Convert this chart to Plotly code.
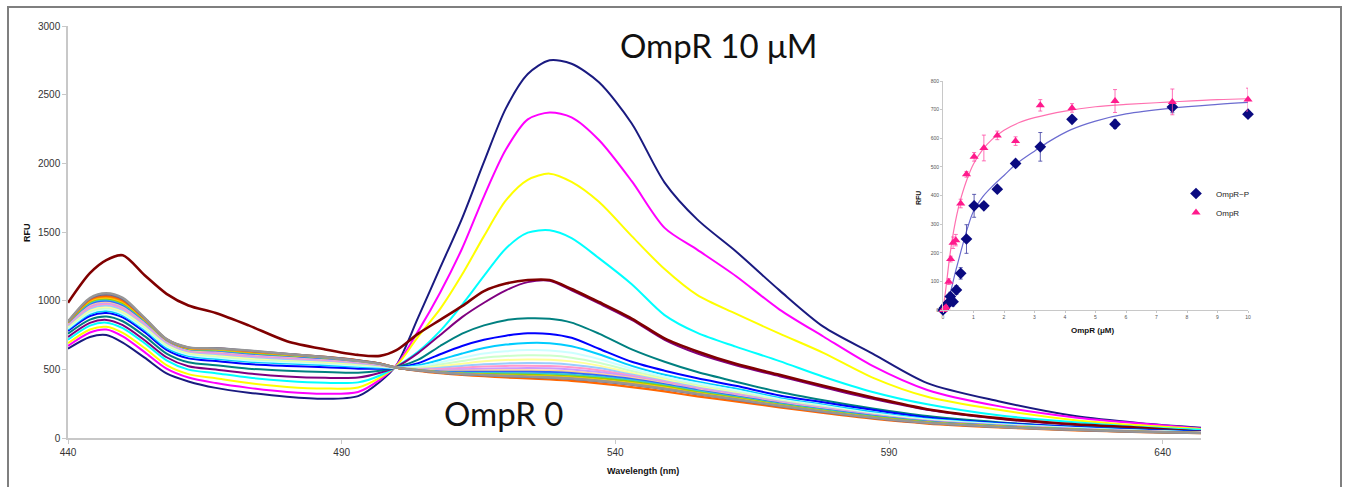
import plotly.graph_objects as go

# ---------------- main spectra data ----------------
wavelength = [440, 444, 447, 450, 454, 458, 462, 467, 473, 480, 487, 493, 497, 500,
              504, 508, 512, 516, 520, 524, 528, 532, 537, 543, 549, 555, 562, 570,
              578, 587, 597, 610, 624, 636, 647]

s01_navy = [650, 735, 750, 695, 585, 470, 412, 365, 330, 300, 285, 305, 410, 530,
            880, 1240, 1600, 2010, 2400, 2650, 2750, 2725, 2590, 2290, 1860, 1590, 1360, 1075, 811, 615, 400, 268, 160, 108, 75]
s02_magenta = [670, 768, 790, 740, 625, 505, 440, 400, 365, 335, 322, 335, 425, 530,
               780, 1060, 1380, 1760, 2100, 2320, 2370, 2335, 2170, 1870, 1530, 1370, 1180, 935, 739, 525, 350, 232, 150, 105, 70]
s03_yellow = [690, 790, 810, 765, 655, 530, 465, 435, 400, 372, 360, 368, 440, 525,
              740, 940, 1190, 1470, 1730, 1880, 1925, 1865, 1720, 1470, 1230, 1040, 905, 760, 620, 440, 300, 205, 130, 92, 65]
s04_cyan = [715, 818, 840, 800, 690, 565, 498, 472, 440, 415, 402, 405, 455, 520,
            630, 780, 970, 1180, 1380, 1495, 1512, 1455, 1310, 1120, 895, 765, 665, 560, 446, 335, 245, 165, 115, 80, 60]
s05_purple = [735, 838, 860, 822, 712, 588, 522, 498, 470, 448, 438, 440, 475, 518,
              620, 750, 880, 985, 1075, 1135, 1145, 1075, 980, 860, 715, 615, 530, 450, 370, 285, 205, 140, 95, 70, 50]
s06_maroon = [985, 1200, 1295, 1330, 1185, 1050, 965, 910, 820, 705, 645, 605, 598, 640,
              760, 860, 960, 1070, 1125, 1150, 1150, 1085, 990, 870, 725, 630, 540, 460, 380, 295, 210, 145, 100, 75, 46]
s07_teal = [760, 862, 885, 850, 742, 615, 552, 530, 505, 490, 480, 475, 490, 515,
            570, 670, 760, 820, 858, 872, 868, 840, 760, 645, 555, 480, 410, 335, 275, 215, 160, 115, 82, 62, 45]
s08_blue = [780, 888, 910, 878, 770, 642, 580, 560, 538, 525, 515, 505, 505, 512,
            545, 610, 670, 715, 745, 762, 758, 730, 650, 555, 490, 435, 380, 310, 260, 205, 150, 110, 80, 60, 45]
s09_sky = [790, 902, 925, 893, 786, 657, 596, 576, 555, 542, 530, 518, 512, 512,
           530, 570, 615, 655, 680, 692, 690, 668, 610, 525, 460, 410, 360, 292, 243, 190, 140, 104, 75, 55, 42]
s10_turquoise = [797, 912, 935, 903, 796, 667, 606, 586, 565, 552, 540, 527, 518, 512,
                 520, 550, 585, 615, 632, 640, 638, 620, 575, 505, 447, 398, 348, 283, 234, 180, 135, 100, 72, 53, 40]
s11_lightgreen = [805, 922, 945, 913, 806, 676, 615, 595, 574, 561, 548, 534, 522, 512,
                  512, 535, 560, 585, 597, 602, 600, 585, 548, 488, 434, 385, 335, 275, 228, 175, 130, 97, 70, 52, 40]
s12_lightyellow = [812, 932, 955, 923, 816, 685, 623, 604, 583, 569, 555, 540, 526, 512,
                   508, 522, 540, 558, 568, 572, 570, 558, 527, 474, 424, 375, 328, 270, 223, 172, 128, 95, 68, 50, 39]
s13_paleblue = [820, 942, 965, 933, 825, 693, 630, 612, 591, 576, 562, 545, 529, 512,
                505, 512, 525, 537, 543, 546, 544, 534, 509, 462, 416, 368, 322, 266, 220, 170, 126, 94, 67, 50, 39]
s14_rose = [827, 952, 975, 943, 834, 700, 636, 619, 598, 583, 568, 550, 532, 512,
            502, 503, 512, 520, 525, 527, 525, 516, 494, 454, 409, 362, 318, 262, 217, 168, 124, 92, 66, 49, 38]
s15_lavender = [833, 962, 985, 953, 842, 706, 641, 626, 605, 589, 573, 554, 535, 512,
                500, 496, 500, 505, 508, 509, 507, 499, 480, 446, 402, 357, 313, 258, 214, 166, 122, 91, 65, 48, 38]
s16_tan = [837, 969, 992, 960, 848, 710, 645, 632, 611, 594, 577, 557, 537, 512,
           498, 490, 490, 492, 494, 494, 492, 485, 467, 438, 397, 352, 308, 255, 211, 164, 121, 90, 64, 48, 38]
s17_lightblue = [840, 977, 1000, 968, 853, 713, 648, 637, 616, 598, 581, 560, 539, 512,
                 496, 485, 482, 482, 483, 482, 480, 474, 457, 430, 392, 348, 304, 252, 208, 162, 120, 89, 63, 47, 37]
s18_aqua = [842, 985, 1008, 976, 857, 715, 650, 641, 620, 602, 584, 562, 540, 512,
            495, 481, 475, 473, 472, 470, 467, 461, 446, 420, 385, 342, 299, 248, 204, 158, 117, 87, 62, 46, 37]
s19_lime = [843, 992, 1015, 984, 861, 716, 652, 644, 624, 605, 586, 563, 541, 512,
            494, 479, 470, 466, 463, 460, 456, 450, 435, 410, 376, 334, 293, 243, 199, 154, 114, 85, 61, 46, 37]
s20_gold = [844, 998, 1022, 991, 865, 717, 654, 647, 627, 607, 588, 564, 541, 512,
            493, 477, 467, 461, 456, 452, 447, 440, 425, 400, 367, 327, 287, 238, 195, 150, 112, 83, 60, 45, 37]
s21_lightorange = [845, 1003, 1028, 997, 868, 718, 656, 650, 630, 609, 589, 565, 542, 512,
                   492, 476, 465, 458, 451, 446, 440, 432, 416, 390, 358, 320, 281, 234, 191, 147, 110, 81, 59, 45, 36]
s22_orange = [846, 1008, 1034, 1003, 870, 719, 657, 652, 632, 611, 590, 566, 542, 512,
              489, 472, 459, 450, 441, 434, 426, 416, 398, 371, 339, 303, 267, 223, 182, 140, 105, 77, 56, 43, 35]
s23_bluegray = [847, 1014, 1045, 1012, 873, 720, 659, 655, 635, 613, 591, 566, 542, 512,
                491, 476, 464, 457, 450, 444, 438, 430, 413, 387, 355, 318, 279, 232, 190, 146, 109, 80, 58, 44, 36]
s24_gray = [848, 1020, 1054, 1020, 875, 720, 660, 652, 637, 612, 588, 562, 540, 512,
            492, 477, 466, 459, 452, 447, 441, 433, 417, 391, 359, 321, 282, 235, 192, 148, 110, 81, 59, 45, 36]

x_ticks = [440, 490, 540, 590, 640]
y_ticks = [0, 500, 1000, 1500, 2000, 2500, 3000]

# ---------------- inset data ----------------
p_conc = [0, 0.05, 0.1, 0.15, 0.24, 0.33, 0.44, 0.58, 0.77, 1.02, 1.34, 1.78, 2.38, 3.19, 4.23, 5.64, 7.52, 10]
p_rfu = [0, 8, 15, 22, 47, 29, 70, 128, 248, 364, 364, 422, 512, 570, 666, 649, 709, 684]
p_err = [0, 5, 8, 8, 15, 15, 15, 20, 50, 40, 10, 10, 10, 50, 10, 15, 20, 10]

u_conc = [0, 0.05, 0.1, 0.19, 0.25, 0.33, 0.42, 0.58, 0.77, 1.02, 1.34, 1.78, 2.38, 3.19, 4.23, 5.64, 7.52, 10]
u_rfu = [0, 5, 10, 99, 178, 235, 244, 372, 474, 535, 566, 610, 590, 715, 706, 730, 727, 735]
u_err = [0, 5, 5, 10, 10, 20, 20, 15, 10, 15, 45, 15, 15, 20, 15, 40, 45, 40]

p_fit_x = [0, 0.1, 0.2, 0.3, 0.4, 0.5, 0.6, 0.8, 1.0, 1.3, 1.6, 2.0, 2.4, 3.0, 3.5, 4.2, 5.0, 6.0, 7.5, 9.0, 10]
p_fit_y = [0, 15, 45, 85, 130, 170, 210, 285, 345, 395, 430, 470, 510, 555, 590, 630, 660, 685, 705, 718, 725]
u_fit_x = [0, 0.1, 0.2, 0.3, 0.4, 0.5, 0.6, 0.8, 1.0, 1.3, 1.6, 2.0, 2.5, 3.0, 4.0, 5.0, 6.0, 7.5, 9.0, 10]
u_fit_y = [0, 80, 170, 245, 305, 355, 395, 460, 510, 560, 595, 628, 655, 672, 695, 710, 718, 727, 735, 738]

inset_x_ticks = list(range(0, 11))
inset_y_ticks = list(range(0, 900, 100))

# ---------------- styling ----------------
spectra = [s01_navy, s02_magenta, s03_yellow, s04_cyan, s05_purple, s06_maroon, s07_teal, s08_blue,
           s09_sky, s10_turquoise, s11_lightgreen, s12_lightyellow, s13_paleblue, s14_rose, s15_lavender,
           s16_tan, s17_lightblue, s18_aqua, s19_lime, s20_gold, s21_lightorange, s22_orange,
           s23_bluegray, s24_gray]
colors = ["#1a1a80", "#FF00FF", "#FFFF00", "#00FFFF", "#800080", "#800000", "#008080", "#0000FF",
          "#00CCFF", "#CCFFFF", "#CCFFCC", "#FFFF99", "#99CCFF", "#FF99CC", "#CC99FF", "#FFCC99",
          "#3366FF", "#33CCCC", "#99CC00", "#FFCC00", "#FF9900", "#FF6600", "#666699", "#969696"]
widths = [2, 2, 2, 2, 2, 2.6, 2, 2, 2, 2, 2, 2, 2, 2, 2, 2, 2, 2, 2, 2, 2, 2.2, 2, 2.4]

W, H = 1346, 487
L, R, T, B = 68, 86, 26, 49
PW = W - L - R
PH = H - T - B


def px(xp):
    return (xp - L) / PW


def py(yp):
    return (H - B - yp) / PH


fig = go.Figure()
for ser, col, wd in zip(spectra, colors, widths):
    fig.add_trace(go.Scatter(x=wavelength, y=ser, mode="lines",
                             line=dict(color=col, width=wd, shape="spline", smoothing=0.8),
                             showlegend=False, hoverinfo="skip", xaxis="x", yaxis="y"))

fig.add_trace(go.Scatter(x=p_fit_x, y=p_fit_y, mode="lines", line=dict(color="#6b6bd0", width=1.2, shape="spline"),
                         showlegend=False, xaxis="x2", yaxis="y2"))
fig.add_trace(go.Scatter(x=u_fit_x, y=u_fit_y, mode="lines", line=dict(color="#ff70b0", width=1.2, shape="spline"),
                         showlegend=False, xaxis="x2", yaxis="y2"))
fig.add_trace(go.Scatter(x=p_conc, y=p_rfu, mode="markers", name="OmpR~P",
                         marker=dict(symbol="diamond", size=9, color="#0a0a80"),
                         error_y=dict(type="data", array=p_err, color="#3a3aa0", thickness=0.8, width=2),
                         cliponaxis=False, xaxis="x2", yaxis="y2"))
fig.add_trace(go.Scatter(x=u_conc, y=u_rfu, mode="markers", name="OmpR",
                         marker=dict(symbol="triangle-up", size=8, color="#ff1a8c"),
                         error_y=dict(type="data", array=u_err, color="#ff4da6", thickness=0.8, width=2),
                         cliponaxis=False, xaxis="x2", yaxis="y2"))

axis_font = dict(family="Liberation Sans, Arial, sans-serif", size=10, color="#333333")
small_font = dict(family="Liberation Sans, Arial, sans-serif", size=5, color="#555555")


def label(text, xp, yp, size, family="Liberation Sans, Arial, sans-serif", angle=0):
    return dict(text=text, xref="paper", yref="paper", x=px(xp), y=py(yp), showarrow=False,
                xanchor="center", yanchor="middle", textangle=angle,
                font=dict(family=family, size=size, color="#111111"))


fig.update_layout(
    width=W, height=H, margin=dict(l=L, r=R, t=T, b=B),
    paper_bgcolor="white", plot_bgcolor="rgba(0,0,0,0)",
    xaxis=dict(domain=[0, px(1201)], range=[440, 647], tickvals=x_ticks, showgrid=False, zeroline=False,
               showline=True, linecolor="#c8c8c8", linewidth=1.5, ticks="outside", ticklen=4,
               tickcolor="#c8c8c8", tickfont=axis_font),
    yaxis=dict(domain=[0, 1], range=[0, 3000], tickvals=y_ticks, showgrid=False, zeroline=False,
               showline=True, linecolor="#c8c8c8", linewidth=1.5, ticks="outside", ticklen=4,
               tickcolor="#c8c8c8", tickfont=axis_font),
    xaxis2=dict(domain=[px(943), px(1248)], range=[0, 10], anchor="y2", tickvals=inset_x_ticks,
                showgrid=False, zeroline=False, showline=True, linecolor="#c8c8c8", linewidth=1,
                ticks="outside", ticklen=2, tickcolor="#c8c8c8", tickfont=small_font),
    yaxis2=dict(domain=[py(310), py(81)], range=[0, 800], anchor="x2", tickvals=inset_y_ticks,
                showgrid=False, zeroline=False, showline=True, linecolor="#c8c8c8", linewidth=1,
                ticks="outside", ticklen=2, tickcolor="#c8c8c8", tickfont=small_font),
    legend=dict(x=px(1176), y=py(179), xanchor="left", yanchor="top", bgcolor="rgba(0,0,0,0)",
                font=dict(family="Liberation Sans, Arial, sans-serif", size=8, color="#222222"),
                itemwidth=30, tracegroupgap=4),
    shapes=[dict(type="rect", xref="paper", yref="paper", x0=px(8), x1=px(1341), y0=py(520), y1=py(7),
                 line=dict(color="#7f7f7f", width=2), fillcolor="rgba(0,0,0,0)", layer="above")],
    annotations=[
        label("<b>RFU</b>", 27, 233, 9, angle=-90),
        label("<b>Wavelength (nm)</b>", 643, 471, 9),
        label("<b>RFU</b>", 918, 198, 7, angle=-90),
        label("<b>OmpR (μM)</b>", 1092, 330, 8),
        label("OmpR 10 μM", 718, 45, 33, family="Lato, Noto Sans, sans-serif"),
        label("OmpR 0", 504, 413, 33, family="Lato, Noto Sans, sans-serif"),
    ],
)

fig.write_html("out.html", config={"displayModeBar": False})

# remove the browser's default page margin so the figure sits at the window's top-left corner
with open("out.html", "r", encoding="utf-8") as fh:
    html = fh.read()
html = html.replace("<head>", "<head><style>html,body{margin:0;padding:0;overflow:hidden;}</style>", 1)
with open("out.html", "w", encoding="utf-8") as fh:
    fh.write(html)
